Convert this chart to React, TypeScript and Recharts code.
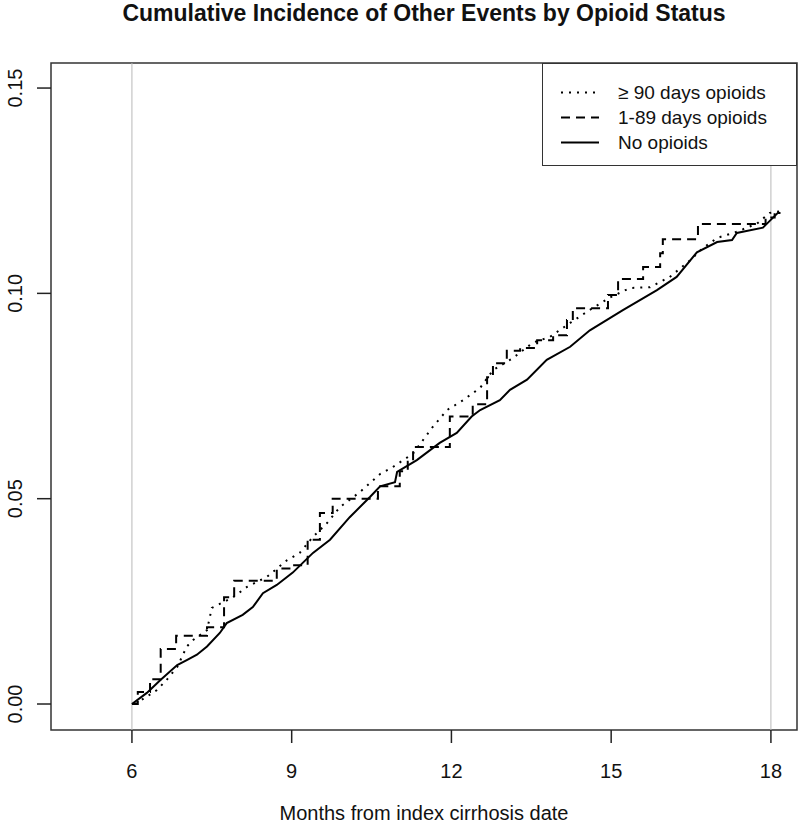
import { LineChart, Line, XAxis, YAxis, ReferenceLine, ReferenceArea } from "recharts";

const FONT = '"Liberation Sans", Arial, sans-serif';

// No opioids (solid)
const noneT = [6.0, 6.28, 6.53, 6.85, 7.03, 7.22, 7.41, 7.65, 7.78, 8.08, 8.27, 8.46, 8.72, 9.02, 9.4, 9.72, 10.09, 10.47, 10.66, 10.94, 10.98, 11.35, 11.78, 12.1, 12.38, 12.54, 12.91, 13.1, 13.42, 13.79, 14.23, 14.6, 15.22, 15.86, 16.23, 16.61, 16.99, 17.27, 17.36, 17.85, 18.13, 18.18];
const noneV = [0, 0.0027, 0.0058, 0.0095, 0.0107, 0.012, 0.014, 0.0173, 0.0197, 0.0217, 0.0236, 0.027, 0.029, 0.032, 0.0368, 0.04, 0.0455, 0.0504, 0.053, 0.054, 0.0565, 0.0594, 0.0636, 0.066, 0.07, 0.0716, 0.074, 0.0765, 0.079, 0.0838, 0.087, 0.091, 0.0959, 0.1008, 0.104, 0.11, 0.1125, 0.113, 0.1147, 0.116, 0.1196, 0.1196];

// >= 90 days opioids (dotted)
const longT = [6.06, 6.47, 6.66, 6.85, 7.03, 7.15, 7.41, 7.5, 7.9, 8.16, 8.54, 8.91, 9.15, 9.4, 9.66, 9.91, 10.28, 10.66, 10.9, 11.28, 11.65, 11.92, 12.22, 12.54, 12.78, 13.15, 13.53, 13.85, 14.23, 14.6, 14.98, 15.35, 15.73, 16.1, 16.48, 16.72, 16.99, 17.36, 17.74, 17.98, 18.17];
const longV = [0, 0.0034, 0.006, 0.009, 0.014, 0.0156, 0.018, 0.0234, 0.026, 0.0285, 0.031, 0.035, 0.0368, 0.0407, 0.044, 0.048, 0.0516, 0.056, 0.0577, 0.061, 0.0675, 0.0716, 0.074, 0.077, 0.0813, 0.0842, 0.088, 0.0894, 0.0928, 0.096, 0.099, 0.1013, 0.1015, 0.104, 0.108, 0.111, 0.1135, 0.115, 0.117, 0.1196, 0.12];

// 1-89 days opioids (dashed)
const shortT = [6.0, 6.11, 6.34, 6.54, 6.83, 7.41, 7.73, 7.92, 8.72, 9.02, 9.3, 9.53, 9.77, 10.62, 11.03, 11.18, 11.28, 11.97, 12.4, 12.67, 12.78, 13.04, 13.29, 13.61, 13.91, 14.17, 14.28, 14.94, 15.13, 15.6, 15.92, 15.97, 16.63, 17.9, 18.07];
const shortV = [0, 0.0029, 0.006, 0.0134, 0.0166, 0.0187, 0.026, 0.03, 0.033, 0.0338, 0.04, 0.0465, 0.05, 0.053, 0.0567, 0.059, 0.0626, 0.07, 0.073, 0.0796, 0.083, 0.086, 0.0867, 0.0886, 0.0898, 0.0935, 0.0964, 0.0996, 0.1035, 0.1064, 0.1098, 0.1132, 0.1169, 0.1185, 0.1195];

const xTicks = [6, 9, 12, 15, 18];
const yTicks = [0, 0.05, 0.1, 0.15];
const X_DOMAIN: [number, number] = [4.48, 18.49];
const Y_DOMAIN: [number, number] = [-0.00633, 0.1561];

const toRows = (t: number[], v: number[]) => t.map((x, i) => ({ t: x, v: v[i] }));

const XTick = (props: any) => {
  const { x, payload } = props;
  return (
    <text x={x} y={778} textAnchor="middle" fontSize={20} fontFamily={FONT} fill="#111">
      {payload.value}
    </text>
  );
};

const YTick = (props: any) => {
  const { y, payload } = props;
  const lx = 22;
  return (
    <text
      x={lx}
      y={y}
      transform={`rotate(-90, ${lx}, ${y})`}
      textAnchor="middle"
      fontSize={20}
      fontFamily={FONT}
      fill="#111"
    >
      {payload.value.toFixed(2)}
    </text>
  );
};

const legendItems = [
  { label: "≥ 90 days opioids", dash: "2 6" },
  { label: "1-89 days opioids", dash: "9 6" },
  { label: "No opioids", dash: undefined },
];

export default function App() {
  return (
    <div style={{ position: "absolute", left: 0, top: 0, width: 800, height: 832, background: "#fff" }}>
      <div
        style={{
          position: "absolute",
          left: 0,
          width: 848,
          top: 0,
          textAlign: "center",
          fontFamily: FONT,
          fontWeight: "bold",
          fontSize: 23,
          lineHeight: "26px",
          color: "#111",
        }}
      >
        Cumulative Incidence of Other Events by Opioid Status
      </div>
      <LineChart width={800} height={832} margin={{ top: 63, right: 3, bottom: 0, left: 0 }}>
        <XAxis
          dataKey="t"
          type="number"
          domain={X_DOMAIN}
          ticks={xTicks}
          allowDataOverflow
          axisLine={false}
          tickLine={{ stroke: "#222", strokeWidth: 1.5 }}
          tickSize={13}
          tick={<XTick />}
          height={102}
        />
        <YAxis
          type="number"
          domain={Y_DOMAIN}
          ticks={yTicks}
          allowDataOverflow
          axisLine={false}
          tickLine={{ stroke: "#222", strokeWidth: 1.5 }}
          tickSize={14}
          tick={<YTick />}
          width={51}
        />
        <ReferenceLine x={6} stroke="#b8b8b8" strokeWidth={1} />
        <ReferenceLine x={18} stroke="#b8b8b8" strokeWidth={1} />
        <Line
          data={toRows(longT, longV)}
          dataKey="v"
          type="linear"
          stroke="#000"
          strokeWidth={2}
          strokeDasharray="2 6"
          dot={false}
          isAnimationActive={false}
        />
        <Line
          data={toRows(shortT, shortV)}
          dataKey="v"
          type="stepAfter"
          stroke="#000"
          strokeWidth={2}
          strokeDasharray="9 6"
          dot={false}
          isAnimationActive={false}
        />
        <Line
          data={toRows(noneT, noneV)}
          dataKey="v"
          type="linear"
          stroke="#000"
          strokeWidth={2}
          dot={false}
          isAnimationActive={false}
        />
        <ReferenceArea
          x1={X_DOMAIN[0]}
          x2={X_DOMAIN[1]}
          y1={Y_DOMAIN[0]}
          y2={Y_DOMAIN[1]}
          fill="none"
          stroke="#333"
          strokeWidth={1.5}
          ifOverflow="visible"
        />
      </LineChart>
      <div
        style={{
          position: "absolute",
          left: 424,
          transform: "translateX(-50%)",
          top: 802,
          fontFamily: FONT,
          fontSize: 20,
          color: "#111",
          whiteSpace: "nowrap",
        }}
      >
        Months from index cirrhosis date
      </div>
      <div
        style={{
          position: "absolute",
          left: 542,
          top: 63,
          width: 255,
          height: 103,
          boxSizing: "border-box",
          border: "1.5px solid #333",
          background: "#fff",
          fontFamily: FONT,
          fontSize: 19,
          color: "#111",
        }}
      >
        {legendItems.map((it, i) => (
          <div
            key={it.label}
            style={{ position: "absolute", left: 0, top: 16 + i * 25, height: 25, display: "flex", alignItems: "center" }}
          >
            <svg width={75} height={25}>
              <line x1={18} x2={56} y1={12.5} y2={12.5} stroke="#000" strokeWidth={2} strokeDasharray={it.dash} />
            </svg>
            <span style={{ whiteSpace: "nowrap" }}>{it.label}</span>
          </div>
        ))}
      </div>
    </div>
  );
}
